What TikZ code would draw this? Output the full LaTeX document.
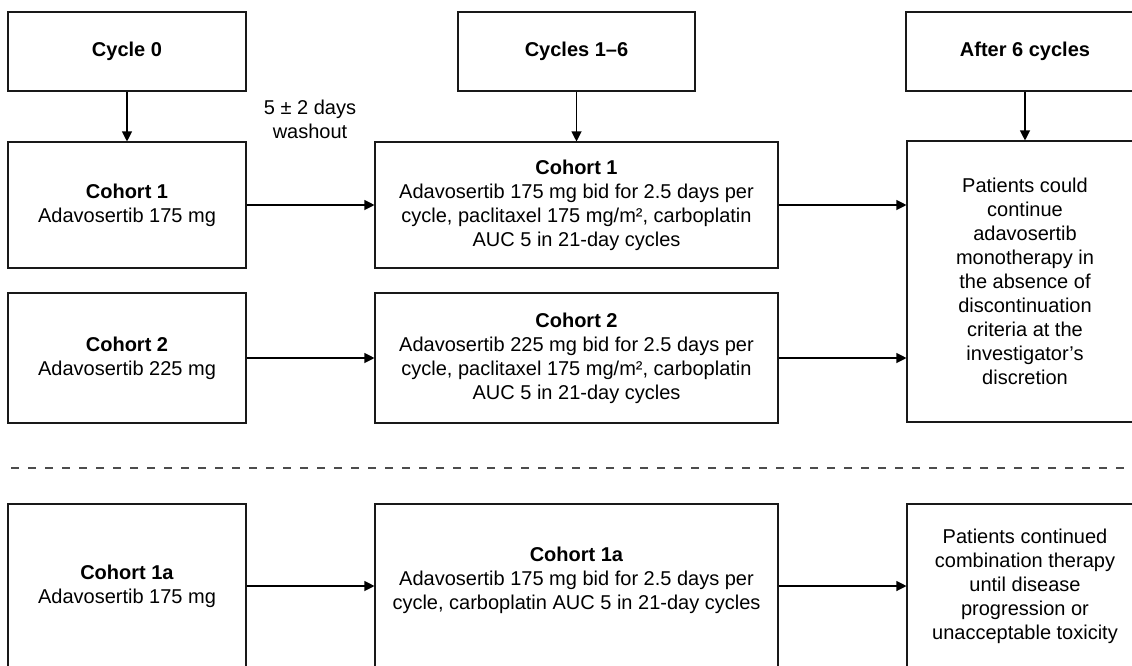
\documentclass[tikz,border=0pt]{standalone}
\usepackage{fontspec}
\setmainfont{Liberation Sans}
\usetikzlibrary{arrows.meta}
\tikzset{
  box/.style={draw=black!90, line width=1.1pt, inner sep=0pt, align=center,
    font=\fontsize{20}{24}\selectfont},
  txt/.style={inner sep=0pt, align=center, font=\fontsize{20}{24}\selectfont},
  arr/.style={line width=1.1pt, -{Triangle[length=10pt,width=10pt]}},
  sep/.style={line width=1.2pt, draw=black!70, dash pattern=on 8pt off 9pt}
}
\begin{document}
\begin{tikzpicture}[x=1pt,y=-1pt]
\useasboundingbox (0,0) rectangle (1132,665);
\clip (0,0) rectangle (1132,665);
% header boxes
\node[box, minimum width=238pt, minimum height=79pt] (c0) at (127,51.5) {\textbf{Cycle 0}};
\node[box, minimum width=237pt, minimum height=79pt] (cy) at (576.5,51.5) {\textbf{Cycles 1–6}};
\node[box, minimum width=238pt, minimum height=79pt] (a6) at (1025,51.5) {\textbf{After 6 cycles}};
% cohort 1 row
\node[box, minimum width=238pt, minimum height=126pt] (l1) at (127,205) {\textbf{Cohort 1}\\Adavosertib 175 mg};
\node[box, minimum width=403pt, minimum height=126pt] (m1) at (576.5,205) {\textbf{Cohort 1}\\Adavosertib 175 mg bid for 2.5 days per\\cycle, paclitaxel 175 mg/m², carboplatin\\AUC 5 in 21-day cycles};
\node[box, minimum width=236pt, minimum height=281pt] (r1) at (1025,281.5) {Patients could\\continue\\adavosertib\\monotherapy in\\the absence of\\discontinuation\\criteria at the\\investigator’s\\discretion};
% cohort 2 row
\node[box, minimum width=238pt, minimum height=130pt] (l2) at (127,358) {\textbf{Cohort 2}\\Adavosertib 225 mg};
\node[box, minimum width=403pt, minimum height=130pt] (m2) at (576.5,358) {\textbf{Cohort 2}\\Adavosertib 225 mg bid for 2.5 days per\\cycle, paclitaxel 175 mg/m², carboplatin\\AUC 5 in 21-day cycles};
% washout label
\node[txt] (wash) at (310,119) {5 ± 2 days\\washout};
% separator
\coordinate (sepL) at (11,468);
\coordinate (sepR) at (1132,468);
\draw[sep] (sepL) -- (sepR);
% cohort 1a row
\node[box, minimum width=238pt, minimum height=164pt] (l3) at (127,586) {\textbf{Cohort 1a}\\Adavosertib 175 mg};
\node[box, minimum width=403pt, minimum height=164pt] (m3) at (576.5,586) {};
\node[txt] (m3t) at (576.5,580) {\textbf{Cohort 1a}\\Adavosertib 175 mg bid for 2.5 days per\\cycle, carboplatin AUC 5 in 21-day cycles};
\node[box, minimum width=236pt, minimum height=164pt] (r3) at (1025,586) {Patients continued\\combination therapy\\until disease\\progression or\\unacceptable toxicity};
% arrows
\draw[arr] (c0) -- (l1);
\draw[arr] (cy) -- (m1);
\draw[arr] (a6) -- (r1);
\draw[arr] (l1) -- (m1);
\draw[arr] (l2) -- (m2);
\draw[arr] (m1.east) -- (m1.east -| r1.west);
\draw[arr] (m2.east) -- (m2.east -| r1.west);
\draw[arr] (l3) -- (m3);
\draw[arr] (m3) -- (r3);
\end{tikzpicture}
\end{document}
